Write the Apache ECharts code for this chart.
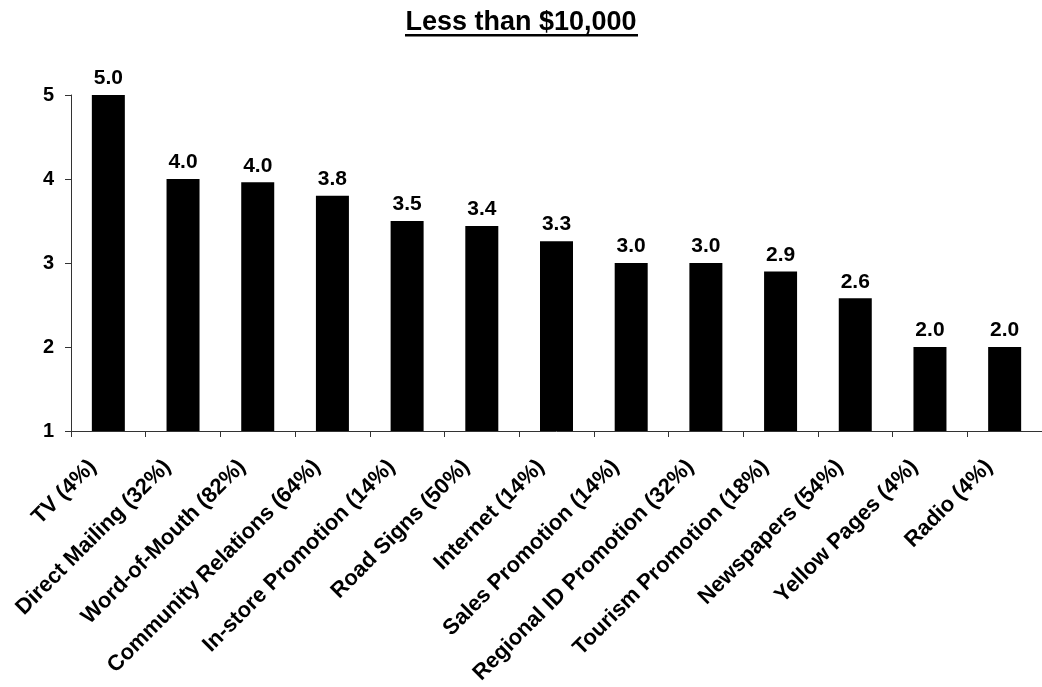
<!DOCTYPE html>
<html>
<head>
<meta charset="utf-8">
<script src="https://cdn.jsdelivr.net/npm/echarts@6/dist/echarts.min.js"></script>
<style>html,body{margin:0;padding:0;background:#fff}#c{width:1042px;height:687px}</style>
</head>
<body>
<div id="c"></div>
<script>
const titleText = 'Less than $10,000';
const categories = ['TV (4%)', 'Direct Mailing (32%)', 'Word-of-Mouth (82%)', 'Community Relations (64%)', 'In-store Promotion (14%)', 'Road Signs (50%)', 'Internet (14%)', 'Sales Promotion (14%)', 'Regional ID Promotion (32%)', 'Tourism Promotion (18%)', 'Newspapers (54%)', 'Yellow Pages (4%)', 'Radio (4%)'];
const values = [5.0, 4.0, 3.96, 3.8, 3.5, 3.44, 3.26, 3.0, 3.0, 2.9, 2.58, 2.0, 2.0];
const yTicks = [1, 2, 3, 4, 5];

const chart = echarts.init(document.getElementById('c'));
const font = 'Liberation Sans, Arial, sans-serif';
chart.setOption({
  animation: false,
  title: {
    text: titleText, left: 'center', top: 4,
    textStyle: { fontFamily: font, fontSize: 27, fontWeight: 'bold', color: '#000' }
  },
  graphic: [{
    type: 'rect', left: 405, top: 34,
    shape: { width: 233, height: 2.5 },
    style: { fill: '#000' }
  }],
  grid: { left: 71, right: 0, top: 95, bottom: 256, containLabel: false },
  xAxis: {
    type: 'category', data: categories,
    axisLine: { lineStyle: { color: '#333', width: 1 } },
    axisTick: { show: true, length: 6, alignWithLabel: false, lineStyle: { color: '#333' } },
    axisLabel: { rotate: 45, interval: 0, margin: 17, padding: [0, 22, 0, 0], fontFamily: font, fontSize: 22, fontWeight: 'bold', color: '#000' }
  },
  yAxis: {
    type: 'value', min: yTicks[0], max: yTicks[yTicks.length - 1], interval: 1,
    splitLine: { show: false },
    axisLine: { show: true, lineStyle: { color: '#333', width: 1 } },
    axisTick: { show: true, length: 6, lineStyle: { color: '#333' } },
    axisLabel: { fontFamily: font, fontSize: 20, fontWeight: 'bold', color: '#000', margin: 17 }
  },
  series: [{
    type: 'bar', data: values, barWidth: 33,
    itemStyle: { color: '#000' },
    label: {
      show: true, position: 'top', distance: 6,
      fontFamily: font, fontSize: 21, fontWeight: 'bold', color: '#000',
      formatter: p => p.value.toFixed(1)
    }
  }]
});
</script>
</body>
</html>
